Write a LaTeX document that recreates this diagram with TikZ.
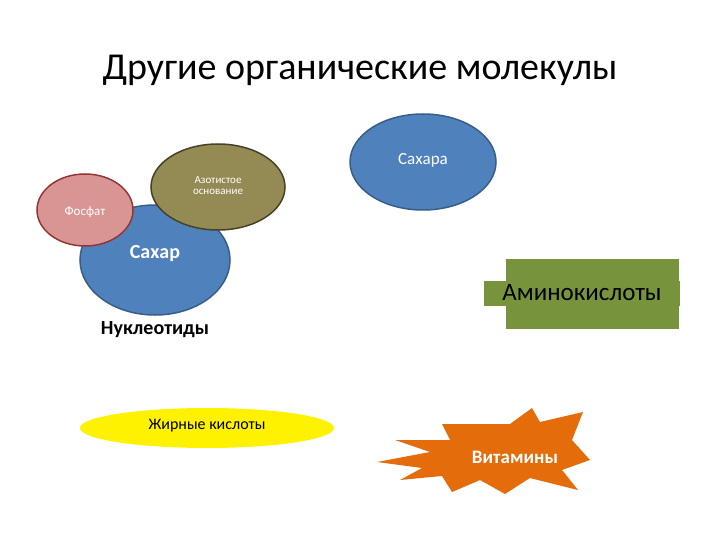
\documentclass[tikz,border=0pt]{standalone}
\usepackage{fontspec}
\setmainfont{Carlito}
\definecolor{cblue}{RGB}{79,129,189}
\definecolor{cblued}{RGB}{56,93,138}
\definecolor{cpink}{RGB}{217,149,148}
\definecolor{cpinkd}{RGB}{148,54,52}
\definecolor{colive}{RGB}{148,138,84}
\definecolor{colived}{RGB}{70,66,40}
\definecolor{cgreen}{RGB}{119,147,60}
\definecolor{corange}{RGB}{228,108,10}
\begin{document}
\begin{tikzpicture}[x=1pt,y=-1pt,
  bl/.style={fill=cblue,draw=cblued,line width=1.5pt},
  wt/.style={text=white,font=\fontsize{#1}{#1}\selectfont}]
\useasboundingbox (0,0) rectangle (720,540);
\node (title) at (360,70) {\fontsize{38}{40}\selectfont Другие органические молекулы};
\draw[bl] (155,260) ellipse (75 and 55);
\node[wt=20,font=\bfseries\fontsize{20}{20}\selectfont] (sakhar) at (155,254) {Сахар};
\draw[fill=cpink,draw=cpinkd,line width=1.5pt] (85,210) ellipse (48 and 36);
\node[wt=13] (fosfat) at (85,212) {Фосфат};
\draw[fill=colive,draw=colived,line width=1.5pt] (218,187) ellipse (67 and 43);
\node[wt=11,align=center] (azot) at (218,186) {Азотистое\\основание};
\node[font=\bfseries\fontsize{20}{20}\selectfont] (nukl) at (155,330) {Нуклеотиды};
\draw[bl] (423,162) ellipse (73 and 48);
\node[wt=17] (sakhara) at (423,160) {Сахара};
\fill[cgreen] (506,259) rectangle (679,329);
\node[fill=cgreen,minimum width=196pt,minimum height=25pt,inner sep=0pt,font=\fontsize{25}{25}\selectfont] (amino) at (582,293) {Аминокислоты};
\fill[yellow] (207,428) ellipse (127 and 20);
\node[font=\fontsize{16}{16}\selectfont] (fat) at (207,426) {Жирные кислоты};
\fill[corange] (377,462)--(430,452)--(395,440)--(450,440)--(442,424)--(510,424)--(532,408)--(540,422)--(583,412)--(572,440)--(590,460)--(562,470)--(578,490)--(530,478)--(505,494)--(480,480)--(452,492)--(442,476)--(400,480)--(422,468)--cycle;
\node[wt=19,font=\bfseries\fontsize{19}{19}\selectfont] (vit) at (515,457) {Витамины};
\end{tikzpicture}
\end{document}
